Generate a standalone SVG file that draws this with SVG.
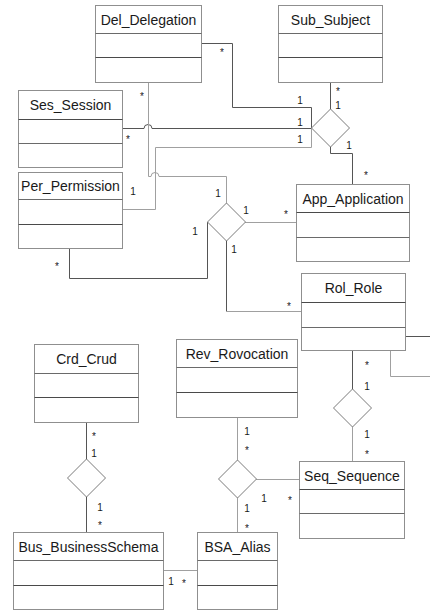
<svg xmlns="http://www.w3.org/2000/svg" width="430" height="612" viewBox="0 0 430 612">
  <style>
    .box { fill: #ffffff; stroke: #8f8f8f; stroke-width: 1; }
    .hdr { stroke: #6a6a6a; stroke-width: 1; }
    .div { stroke: #4a4a4a; stroke-width: 1; }
    .title { font-family: "Liberation Sans", Arial, sans-serif; font-size: 14px; fill: #1a1a1a; text-anchor: middle; }
    .lbl { font-family: "Liberation Sans", Arial, sans-serif; font-size: 10px; fill: #1a1a1a; text-anchor: middle; }
    .dk { fill: none; stroke: #555555; stroke-width: 1; }
    .lt { fill: none; stroke: #a0a0a0; stroke-width: 1; }
    .dia { fill: #ffffff; stroke: #7a7a7a; stroke-width: 1; }
  </style>
  <rect width="430" height="612" fill="#ffffff"/>

  <!-- association lines -->
  <g id="connectors">
    <path class="dk" d="M201,43.5 H232.5 V107.5 H311.5 V128"/>
    <path class="dk" d="M330.5,82 V109"/>
    <path class="dk" d="M122,128.5 H144 A4,4 0 0 1 152,128.5 H311"/>
    <path class="lt" d="M122,209.5 H155.5 V147.5 H311.5 V128"/>
    <path class="dk" d="M330.5,147 V153.5 H352.5 V184"/>
    <path class="lt" d="M148.5,82 V176.5 H151 A4,4 0 0 1 159,176.5 H226.5 V203"/>
    <path class="lt" d="M245,222.5 H296"/>
    <path class="dk" d="M207.5,222 V278.5 H69.5 V248"/>
    <path class="dk" d="M226.5,241 V311.5"/>
    <path class="lt" d="M226.5,311.5 H301"/>
    <path class="dk" d="M405,336.5 H430"/>
    <path class="lt" d="M390.5,350 V376.5 H430"/>
    <path class="dk" d="M352.5,350 V389"/>
    <path class="lt" d="M352.5,427 V461"/>
    <path class="lt" d="M237.5,417 V460"/>
    <path class="lt" d="M256,479.5 H299"/>
    <path class="lt" d="M237.5,498 V532"/>
    <path class="dk" d="M86.5,422 V459"/>
    <path class="dk" d="M86.5,497 V532"/>
    <path class="lt" d="M163,570.5 H197"/>

    <!-- multiplicities -->
    <text class="lbl" x="222" y="56">*</text>
    <text class="lbl" x="300" y="104">1</text>
    <text class="lbl" x="300" y="126">1</text>
    <text class="lbl" x="300" y="143">1</text>
    <text class="lbl" x="338" y="95">*</text>
    <text class="lbl" x="338" y="109">1</text>
    <text class="lbl" x="349" y="149">1</text>
    <text class="lbl" x="366" y="179">*</text>
    <text class="lbl" x="142" y="100">*</text>
    <text class="lbl" x="128" y="143">*</text>
    <text class="lbl" x="133" y="195">1</text>
    <text class="lbl" x="218" y="197">1</text>
    <text class="lbl" x="246" y="214">1</text>
    <text class="lbl" x="195" y="235">1</text>
    <text class="lbl" x="234" y="253">1</text>
    <text class="lbl" x="286" y="218">*</text>
    <text class="lbl" x="57" y="270">*</text>
    <text class="lbl" x="289" y="310">*</text>
    <text class="lbl" x="367" y="369">*</text>
    <text class="lbl" x="367" y="390">1</text>
    <text class="lbl" x="367" y="438">1</text>
    <text class="lbl" x="367" y="458">*</text>
    <text class="lbl" x="247" y="435">1</text>
    <text class="lbl" x="247" y="454">*</text>
    <text class="lbl" x="264" y="502">1</text>
    <text class="lbl" x="290" y="504">*</text>
    <text class="lbl" x="247" y="512">1</text>
    <text class="lbl" x="247" y="532">*</text>
    <text class="lbl" x="94" y="440">*</text>
    <text class="lbl" x="94" y="457">1</text>
    <text class="lbl" x="100" y="511">1</text>
    <text class="lbl" x="100" y="529">*</text>
    <text class="lbl" x="171" y="585">1</text>
    <text class="lbl" x="184" y="587">*</text>
  </g>

  <!-- n-ary association diamonds -->
  <g id="assoc-subject"><polygon class="dia" points="330.5,109 349.5,128 330.5,147 311.5,128"/></g>
  <g id="assoc-application"><polygon class="dia" points="226.5,203 245.5,222 226.5,241 207.5,222"/></g>
  <g id="assoc-role"><polygon class="dia" points="352.5,389 371.5,408 352.5,427 333.5,408"/></g>
  <g id="assoc-alias"><polygon class="dia" points="237.5,460 256.5,479 237.5,498 218.5,479"/></g>
  <g id="assoc-crud"><polygon class="dia" points="86.5,459 105.5,478 86.5,497 67.5,478"/></g>

  <!-- classes -->
  <g id="Del_Delegation">
    <rect class="box" x="95.5" y="5.5" width="106" height="77"/>
    <line class="hdr" x1="95.5" y1="33.5" x2="201.5" y2="33.5"/>
    <line class="div" x1="95.5" y1="57.5" x2="201.5" y2="57.5"/>
    <text class="title" x="148.5" y="25">Del_Delegation</text>
  </g>
  <g id="Sub_Subject">
    <rect class="box" x="278.5" y="5.5" width="104" height="77"/>
    <line class="hdr" x1="278.5" y1="33.5" x2="382.5" y2="33.5"/>
    <line class="div" x1="278.5" y1="57.5" x2="382.5" y2="57.5"/>
    <text class="title" x="330.5" y="25">Sub_Subject</text>
  </g>
  <g id="Ses_Session">
    <rect class="box" x="18.5" y="90.5" width="104" height="77"/>
    <line class="div" x1="18.5" y1="119.5" x2="122.5" y2="119.5"/>
    <line class="hdr" x1="18.5" y1="143.5" x2="122.5" y2="143.5"/>
    <text class="title" x="70.5" y="110">Ses_Session</text>
  </g>
  <g id="Per_Permission">
    <rect class="box" x="18.5" y="172.5" width="104" height="76"/>
    <line class="hdr" x1="18.5" y1="199.5" x2="122.5" y2="199.5"/>
    <line class="div" x1="18.5" y1="224.5" x2="122.5" y2="224.5"/>
    <text class="title" x="70.5" y="191">Per_Permission</text>
  </g>
  <g id="App_Application">
    <rect class="box" x="296.5" y="184.5" width="113" height="77"/>
    <line class="div" x1="296.5" y1="212.5" x2="409.5" y2="212.5"/>
    <line class="hdr" x1="296.5" y1="237.5" x2="409.5" y2="237.5"/>
    <text class="title" x="353" y="204">App_Application</text>
  </g>
  <g id="Rol_Role">
    <rect class="box" x="301.5" y="273.5" width="104" height="77"/>
    <line class="div" x1="301.5" y1="302.5" x2="405.5" y2="302.5"/>
    <line class="hdr" x1="301.5" y1="327.5" x2="405.5" y2="327.5"/>
    <text class="title" x="353.5" y="293">Rol_Role</text>
  </g>
  <g id="Crd_Crud">
    <rect class="box" x="34.5" y="344.5" width="104" height="78"/>
    <line class="hdr" x1="34.5" y1="373.5" x2="138.5" y2="373.5"/>
    <line class="div" x1="34.5" y1="397.5" x2="138.5" y2="397.5"/>
    <text class="title" x="86.5" y="364">Crd_Crud</text>
  </g>
  <g id="Rev_Rovocation">
    <rect class="box" x="176.5" y="339.5" width="121" height="78"/>
    <line class="hdr" x1="176.5" y1="367.5" x2="297.5" y2="367.5"/>
    <line class="div" x1="176.5" y1="392.5" x2="297.5" y2="392.5"/>
    <text class="title" x="237" y="359">Rev_Rovocation</text>
  </g>
  <g id="Seq_Sequence">
    <rect class="box" x="299.5" y="461.5" width="105" height="77"/>
    <line class="div" x1="299.5" y1="489.5" x2="404.5" y2="489.5"/>
    <line class="hdr" x1="299.5" y1="513.5" x2="404.5" y2="513.5"/>
    <text class="title" x="352" y="481">Seq_Sequence</text>
  </g>
  <g id="Bus_BusinessSchema">
    <rect class="box" x="13.5" y="532.5" width="150" height="77"/>
    <line class="hdr" x1="13.5" y1="560.5" x2="163.5" y2="560.5"/>
    <line class="div" x1="13.5" y1="585.5" x2="163.5" y2="585.5"/>
    <text class="title" x="88.5" y="552">Bus_BusinessSchema</text>
  </g>
  <g id="BSA_Alias">
    <rect class="box" x="197.5" y="532.5" width="80" height="77"/>
    <line class="hdr" x1="197.5" y1="560.5" x2="277.5" y2="560.5"/>
    <line class="div" x1="197.5" y1="585.5" x2="277.5" y2="585.5"/>
    <text class="title" x="237.5" y="552">BSA_Alias</text>
  </g>
</svg>
